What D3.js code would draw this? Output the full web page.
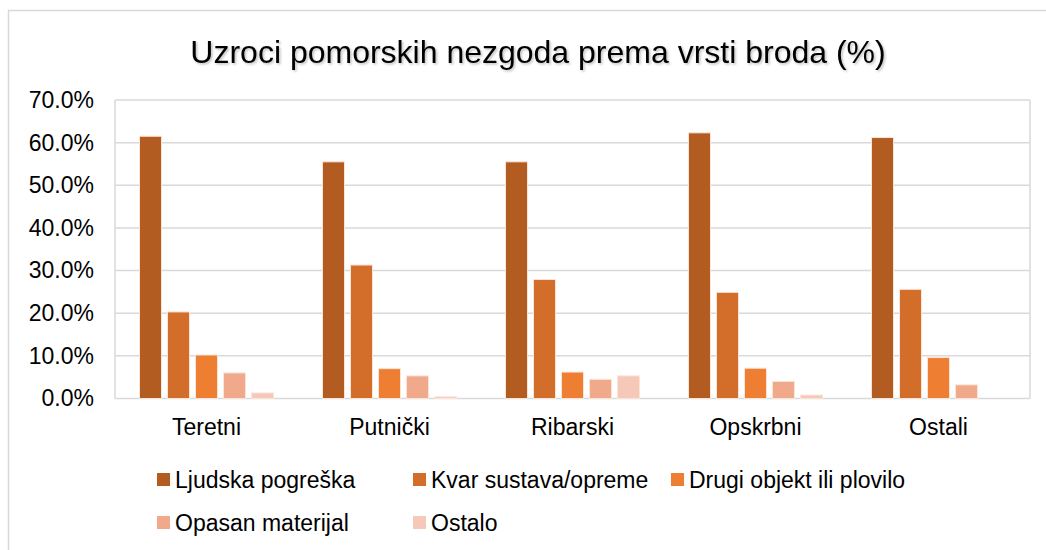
<!DOCTYPE html>
<html>
<head>
<meta charset="utf-8">
<script src="https://cdn.jsdelivr.net/npm/d3@7"></script>
<style>
  body { margin: 0; background: #fff; }
  text { font-family: "Liberation Sans", Arial, sans-serif; fill: #000; }
</style>
</head>
<body>
<svg width="1046" height="550"></svg>
<script>
var categories = ["Teretni", "Putnički", "Ribarski", "Opskrbni", "Ostali"];
var seriesNames = ["Ljudska pogreška", "Kvar sustava/opreme", "Drugi objekt ili plovilo", "Opasan materijal", "Ostalo"];
var colors = ["#B35C22", "#D36D2A", "#EE7E32", "#F1A98C", "#F5C8BA"];
var ljudska = [61.5, 55.5, 55.5, 62.3, 61.2];
var kvar = [20.3, 31.3, 27.9, 24.9, 25.6];
var drugi = [10.2, 7.0, 6.2, 7.1, 9.6];
var opasan = [6.0, 5.3, 4.5, 4.0, 3.2];
var ostalo = [1.3, 0.4, 5.3, 0.8, 0];
var yTicks = [0, 10, 20, 30, 40, 50, 60, 70];

var series = [ljudska, kvar, drugi, opasan, ostalo];

var svg = d3.select("svg");

// outer chart frame
svg.append("rect")
    .attr("x", 8.5).attr("y", 10.5)
    .attr("width", 1060).attr("height", 560)
    .attr("fill", "none")
    .attr("stroke", "#d9d9d9")
    .attr("stroke-width", 1.5);

var defs = svg.append("defs");
var f = defs.append("filter").attr("id", "shadow")
    .attr("x", "-5%").attr("y", "-20%").attr("width", "110%").attr("height", "140%");
f.append("feDropShadow").attr("dx", 1.5).attr("dy", 1.5).attr("stdDeviation", 1)
    .attr("flood-color", "#000").attr("flood-opacity", 0.25);

var plotLeft = 115, plotRight = 1030, plotTop = 100, plotBottom = 398.5;

var x0 = d3.scaleBand().domain(categories).range([plotLeft, plotRight]).padding(0);
var x1 = d3.scaleBand().domain(d3.range(seriesNames.length))
    .range([0, x0.bandwidth()])
    .paddingInner(0.214).paddingOuter(0.875);
var y = d3.scaleLinear().domain([0, 70]).range([plotBottom, plotTop]);

// gridlines
svg.append("g").selectAll("line")
    .data(yTicks)
    .enter().append("line")
    .attr("x1", plotLeft).attr("x2", plotRight)
    .attr("y1", function(d) { return y(d); })
    .attr("y2", function(d) { return y(d); })
    .attr("stroke", "#d9d9d9")
    .attr("stroke-width", 1.5);

svg.append("line")
    .attr("x1", plotLeft).attr("x2", plotLeft)
    .attr("y1", plotTop).attr("y2", plotBottom)
    .attr("stroke", "#d9d9d9").attr("stroke-width", 1.5);
svg.append("line")
    .attr("x1", plotRight).attr("x2", plotRight)
    .attr("y1", plotTop).attr("y2", plotBottom)
    .attr("stroke", "#d9d9d9").attr("stroke-width", 1.5);

// y axis labels
var yAxis = d3.axisLeft(y).tickValues(yTicks)
    .tickFormat(function(d) { return d.toFixed(1) + "%"; })
    .tickSize(0).tickPadding(21);
var ya = svg.append("g").attr("transform", "translate(" + plotLeft + ",0)").call(yAxis);
ya.select(".domain").remove();
ya.selectAll("text")
    .attr("font-family", "Liberation Sans, Arial, sans-serif")
    .attr("font-size", 23)
    .attr("fill", "#000");

// x axis labels
var xAxis = d3.axisBottom(x0).tickSize(0).tickPadding(20);
var xa = svg.append("g").attr("transform", "translate(0," + plotBottom + ")").call(xAxis);
xa.select(".domain").remove();
xa.selectAll("text")
    .attr("font-family", "Liberation Sans, Arial, sans-serif")
    .attr("font-size", 23)
    .attr("fill", "#000");

// bars
var groups = svg.append("g").selectAll("g")
    .data(categories)
    .enter().append("g")
    .attr("transform", function(d) { return "translate(" + x0(d) + ",0)"; });

groups.selectAll("rect")
    .data(function(d, ci) {
      return series.map(function(s, si) { return { si: si, v: s[ci] }; });
    })
    .enter().append("rect")
    .attr("x", function(d) { return x1(d.si); })
    .attr("width", x1.bandwidth())
    .attr("y", function(d) { return y(d.v); })
    .attr("height", function(d) { return plotBottom - y(d.v); })
    .attr("fill", function(d) { return colors[d.si]; })
    .attr("stroke", function(d) { return d.v > 0 ? "#fbe3d6" : "none"; })
    .attr("stroke-width", 1);

// title
svg.append("text")
    .attr("x", 538).attr("y", 63)
    .attr("text-anchor", "middle")
    .attr("font-size", 32)
    .attr("filter", "url(#shadow)")
    .text("Uzroci pomorskih nezgoda prema vrsti broda (%)");

// legend
var legendPos = [[157, 473], [413, 473], [671, 473], [157, 516], [413, 516]];
var lg = svg.append("g").selectAll("g")
    .data(seriesNames)
    .enter().append("g")
    .attr("transform", function(d, i) { return "translate(" + legendPos[i][0] + "," + legendPos[i][1] + ")"; });
lg.append("rect")
    .attr("width", 13).attr("height", 13)
    .attr("fill", function(d, i) { return colors[i]; });
lg.append("text")
    .attr("x", 18).attr("y", 14.5)
    .attr("font-size", 23)
    .text(function(d) { return d; });
</script>
</body>
</html>
